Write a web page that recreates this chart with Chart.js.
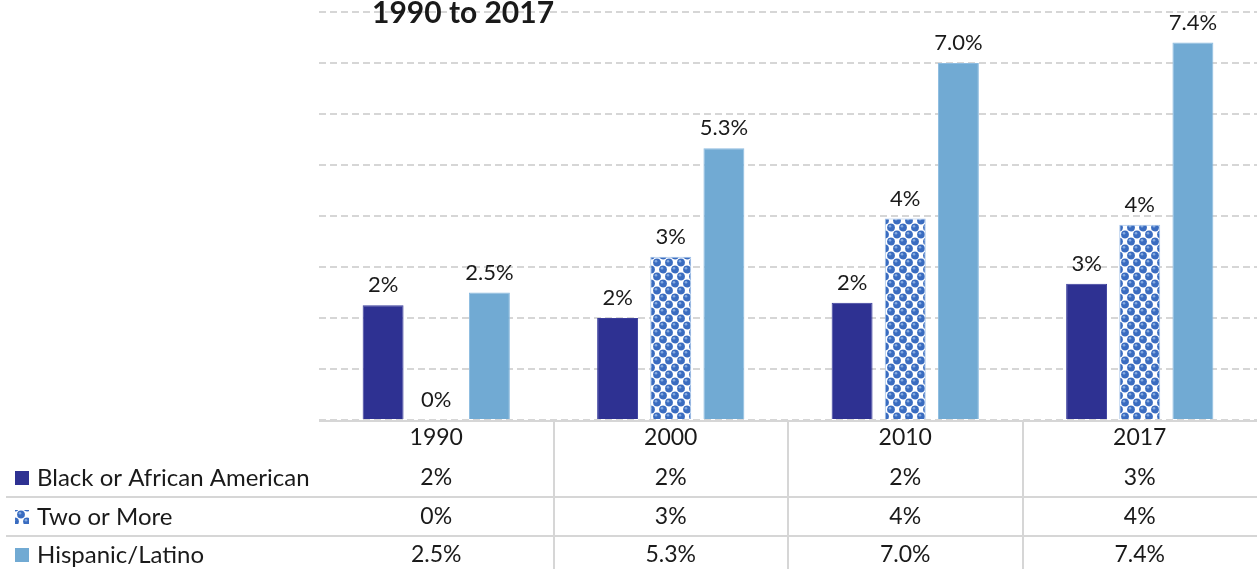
<!DOCTYPE html>
<html>
<head>
<meta charset="utf-8">
<script src="https://cdn.jsdelivr.net/npm/chart.js@4/dist/chart.umd.min.js"></script>
<style>
  body { margin: 0; background: #fff; }
  canvas { display: block; }
</style>
</head>
<body>
<canvas id="eduChart" width="1257" height="569"></canvas>
<script>
var years = ['1990', '2000', '2010', '2017'];
var seriesNames = ['Black or African American', 'Two or More', 'Hispanic/Latino'];
var blackValues = [2.25, 2.0, 2.3, 2.67];
var twoValues = [0, 3.2, 3.95, 3.83];
var hispanicValues = [2.5, 5.33, 7.0, 7.4];
var blackLabels = ['2%', '2%', '2%', '3%'];
var twoLabels = ['0%', '3%', '4%', '4%'];
var hispanicLabels = ['2.5%', '5.3%', '7.0%', '7.4%'];
var titleText = '1990 to 2017';

var FONT = 'Lato, "Open Sans", sans-serif';
var GRID = '#d6d6d6';

// dotted fill used for the "Two or More" bars
function makeDots() {
  var c = document.createElement('canvas');
  c.width = 12; c.height = 14;
  var g = c.getContext('2d');
  g.fillStyle = '#ffffff';
  g.fillRect(0, 0, 12, 14);
  var spots = [[3, 3.5], [9, 10.5], [15, 3.5], [-3, 10.5], [9, -3.5], [3, 17.5], [-3, -3.5], [15, 17.5]];
  spots.forEach(function (p) {
    g.beginPath();
    g.arc(p[0], p[1], 3.9, 0, Math.PI * 2);
    g.fillStyle = '#3a6cc0';
    g.fill();
    g.beginPath();
    g.arc(p[0] - 1, p[1] - 1.2, 1.3, 0, Math.PI * 2);
    g.fillStyle = '#86abe0';
    g.fill();
  });
  return document.getElementById('eduChart').getContext('2d').createPattern(c, 'repeat');
}
var dots = makeDots();

var barLabels = [blackLabels, twoLabels, hispanicLabels];
var keyFills = ['#2e3192', dots, '#71aad3'];

var tablePlugin = {
  id: 'tablePlugin',
  afterDraw: function (chart) {
    var ctx = chart.ctx;
    var area = chart.chartArea;
    var x = chart.scales.x;
    var colW = (area.right - area.left) / years.length;

    ctx.save();
    // value labels above bars
    ctx.font = '22px ' + FONT;
    ctx.fillStyle = '#1a1a1a';
    ctx.textAlign = 'center';
    ctx.textBaseline = 'bottom';
    chart.data.datasets.forEach(function (ds, i) {
      chart.getDatasetMeta(i).data.forEach(function (bar, j) {
        ctx.fillText(barLabels[i][j], bar.x, bar.y - 9);
      });
    });

    // baseline
    ctx.strokeStyle = GRID;
    ctx.lineWidth = 2;
    ctx.beginPath();
    ctx.moveTo(area.left, area.bottom + 1);
    ctx.lineTo(chart.width, area.bottom + 1);
    ctx.stroke();

    // table grid
    for (var k = 1; k < years.length; k++) {
      var vx = Math.round(area.left + k * colW);
      ctx.beginPath();
      ctx.moveTo(vx, area.bottom + 1);
      ctx.lineTo(vx, chart.height);
      ctx.stroke();
    }
    [497, 536].forEach(function (hy) {
      ctx.beginPath();
      ctx.moveTo(6, hy);
      ctx.lineTo(chart.width, hy);
      ctx.stroke();
    });

    // table text
    ctx.font = '23px ' + FONT;
    ctx.textBaseline = 'middle';
    ctx.fillStyle = '#1a1a1a';
    var rowY = [478, 517, 555];
    years.forEach(function (yr, j) {
      var cx = x.getPixelForValue(j);
      ctx.fillText(yr, cx, 438);
      barLabels.forEach(function (labels, i) {
        ctx.fillText(labels[j], cx, rowY[i]);
      });
    });

    // row headers with keys
    ctx.textAlign = 'left';
    seriesNames.forEach(function (name, i) {
      ctx.fillStyle = keyFills[i];
      ctx.fillRect(15, rowY[i] - 7, 14, 14);
      ctx.fillStyle = '#1a1a1a';
      ctx.font = '24px ' + FONT;
      ctx.fillText(name, 37, rowY[i]);
    });

    // title
    ctx.font = 'bold 30px ' + FONT;
    ctx.textBaseline = 'alphabetic';
    ctx.fillText(titleText, 372, 23);
    ctx.restore();
  }
};

new Chart(document.getElementById('eduChart'), {
  type: 'bar',
  data: {
    labels: years,
    datasets: [{
      label: seriesNames[0],
      data: blackValues,
      backgroundColor: '#2e3192',
      borderColor: '#3a3d9c',
      borderWidth: 1
    }, {
      label: seriesNames[1],
      data: twoValues,
      backgroundColor: dots,
      borderColor: '#9bbde6',
      borderWidth: 1
    }, {
      label: seriesNames[2],
      data: hispanicValues,
      backgroundColor: '#71aad3',
      borderColor: '#8cbbe0',
      borderWidth: 1
    }]
  },
  options: {
    responsive: false,
    animation: false,
    layout: { padding: { left: 319, right: -3, top: 12, bottom: 149 } },
    categoryPercentage: 0.68,
    barPercentage: 0.77,
    plugins: {
      legend: { display: false },
      tooltip: { enabled: false }
    },
    scales: {
      x: { display: false },
      y: {
        min: 0,
        max: 8,
        ticks: { display: false, stepSize: 1 },
        grid: {
          color: GRID,
          lineWidth: 2,
          drawTicks: false
        },
        border: { display: false, dash: [7, 4] }
      }
    }
  },
  plugins: [tablePlugin]
});
</script>
</body>
</html>
